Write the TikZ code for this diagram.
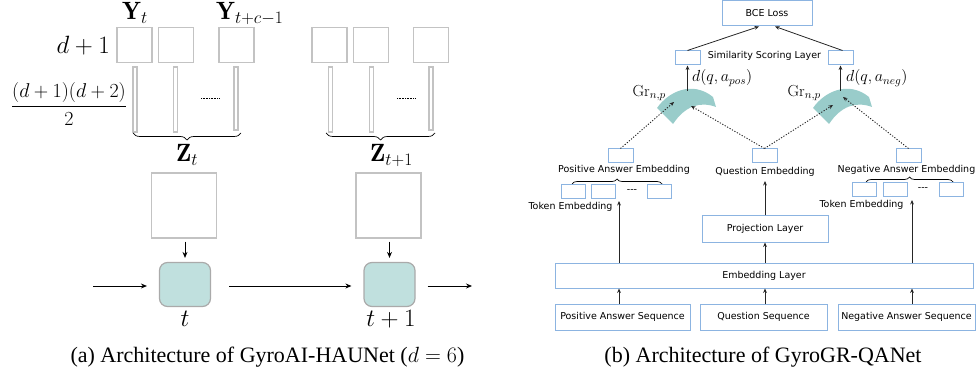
\documentclass[tikz,border=0pt]{standalone}
\usepackage{fix-cm}
\usepackage{amsmath}
\usepackage{fontspec}
\setsansfont{DejaVu Sans}
\newfontfamily\capfont{Liberation Serif}
\usetikzlibrary{arrows.meta,decorations.pathreplacing}
\definecolor{gbox}{RGB}{195,195,195}
\definecolor{rnnedge}{RGB}{170,170,170}
\definecolor{tealfill}{RGB}{192,224,222}
\definecolor{tealdark}{RGB}{153,204,202}
\definecolor{bluebox}{RGB}{140,180,225}
\begin{document}
\begin{tikzpicture}[x=1pt,y=-1pt,
 gsq/.style={draw=gbox,line width=1.2pt,fill=white,inner sep=0pt,minimum width=35pt,minimum height=35pt},
 gbar/.style={draw=gbox,line width=1.1pt,inner sep=0pt,minimum width=4pt,minimum height=65pt},
 gbig/.style={draw=gbox,line width=1.2pt,inner sep=0pt,minimum width=65pt,minimum height=65pt},
 rnn/.style={draw=rnnedge,fill=tealfill,line width=1.2pt,rounded corners=8pt,minimum width=51pt,minimum height=44pt,inner sep=0pt},
 big/.style={font=\fontsize{25}{30}\selectfont,inner sep=0pt},
 arrL/.style={-{Stealth[length=6pt,width=5pt]},line width=0.8pt},
 bbox/.style={draw=bluebox,line width=1pt,inner sep=0pt,font=\sffamily\fontsize{9.5}{11}\selectfont},
 txt/.style={font=\sffamily\fontsize{9.5}{11}\selectfont,inner sep=0pt},
 arrR/.style={-{Stealth[length=4.5pt,width=3.8pt]},line width=0.8pt,draw=black!85},
 dotarr/.style={arrR,line width=0.9pt,dash pattern=on 1.2pt off 1.6pt},
 rmath/.style={font=\fontsize{16}{19}\selectfont,inner sep=0pt},
 bracedown/.style={decorate,decoration={brace,mirror,amplitude=7pt},line width=0.7pt},
 braceup/.style={decorate,decoration={brace,amplitude=5pt},line width=0.7pt},
 captext/.style={font=\capfont\fontsize{22}{26}\selectfont,inner sep=0pt}
]
\useasboundingbox (0,0) rectangle (976,379);

% ---------- (a) ----------
\node[gsq] (y1) at (134.5,45) {};
\node[gsq] (y2) at (176,45) {};
\node[gsq] (y3) at (236.5,45) {};
\node[gbar] (b1) at (135,99.5) {};
\node[gbar] (b2) at (175.5,99.5) {};
\node[gbar,minimum height=63pt] (b3) at (236,98.5) {};
\coordinate (dots1a) at (201,98); \coordinate (dots1b) at (219,98);
\draw[densely dotted,line width=0.6pt] (dots1a) -- (dots1b);

\node[gsq] (y4) at (329.5,45) {};
\node[gsq] (y5) at (371,45) {};
\node[gsq] (y6) at (431,45) {};
\node[gbar] (b4) at (330.5,99.5) {};
\node[gbar] (b5) at (371.5,99.5) {};
\node[gbar,minimum height=63pt] (b6) at (431,98.5) {};
\coordinate (dots2a) at (397,98); \coordinate (dots2b) at (416,98);
\draw[densely dotted,line width=0.6pt] (dots2a) -- (dots2b);

\node[big,anchor=base west] (ylab1) at (122,20) {$\mathbf{Y}_t$};
\node[big,anchor=base west] (ylab2) at (216,20) {$\mathbf{Y}_{t+c-1}$};
\node[big,anchor=base east] (dlab) at (110,54) {$d+1$};
\node[font=\fontsize{20}{24}\selectfont,inner sep=0pt] (frac) at (69,104) {$\dfrac{(d+1)(d+2)}{2}$};

\coordinate (br1a) at (133,133); \coordinate (br1b) at (241,133);
\coordinate (br2a) at (326,133); \coordinate (br2b) at (435,133);
\draw[bracedown] (br1a) -- (br1b);
\draw[bracedown] (br2a) -- (br2b);
\node[big,anchor=base west] (zlab1) at (176,162) {$\mathbf{Z}_t$};
\node[big,anchor=base west] (zlab2) at (370,162) {$\mathbf{Z}_{t+1}$};

\node[gbig] (z1) at (184,205.5) {};
\node[gbig] (z2) at (388.5,205.5) {};
\node[rnn] (r1) at (185,284.5) {};
\node[rnn] (r2) at (389.5,284.5) {};
\draw[arrL,shorten <=3pt,shorten >=4pt] (z1.south -| r1.north) -- (r1.north);
\draw[arrL,shorten <=3pt,shorten >=4pt] (z2.south -| r2.north) -- (r2.north);
\coordinate (inL) at (93,286);
\coordinate (outR) at (472,286);
\draw[arrL,shorten >=12pt] (inL) -- (inL -| r1.west);
\draw[arrL,shorten <=18pt,shorten >=12pt] (inL -| r1.east) -- (inL -| r2.west);
\draw[arrL,shorten <=12pt] (inL -| r2.east) -- (outR);
\node[big,anchor=base] (tlab1) at (185,326) {$t$};
\node[big,anchor=base] (tlab2) at (391,326) {$t+1$};

% ---------- (b) ----------
\node[bbox,minimum width=90pt,minimum height=25pt] (bce) at (767,13.5) {BCE Loss};
\node[bbox,minimum width=25pt,minimum height=14pt] (simL) at (687.5,58) {};
\node[bbox,minimum width=25pt,minimum height=14pt] (simR) at (840.5,58) {};
\node[txt] (simtxt) at (764.5,56) {Similarity Scoring Layer};
\draw[arrR] (simL.north) -- ([xshift=-8pt]bce.south);
\draw[arrR] ([xshift=2pt]simR.north) -- ([xshift=8pt]bce.south);

% manifolds
\path[fill=tealdark] (657,108) .. controls (668,92) and (692,80) .. (713,97) -- (716,107) .. controls (700,101) and (685,106) .. (673,124) -- cycle;
\path[fill=tealdark] (813,108) .. controls (824,92) and (848,80) .. (869,97) -- (872,107) .. controls (856,101) and (841,106) .. (829,124) -- cycle;
\coordinate (mLtop) at (687.5,91); \coordinate (mLa) at (674,102); \coordinate (mLb) at (691,106);
\coordinate (mRtop) at (840.5,91); \coordinate (mRa) at (833,105); \coordinate (mRb) at (843,97);
\draw[arrR,line width=0.9pt] (mLtop) -- (simL.south);
\draw[arrR,line width=0.9pt] (mRtop) -- (simR.south);
\node[rmath,anchor=east] (grL) at (666,93) {$\mathrm{Gr}_{n,p}$};
\node[rmath,anchor=east] (grR) at (821,93) {$\mathrm{Gr}_{n,p}$};
\node[rmath,anchor=west] (dLl) at (692,78) {$d(q,a_{pos})$};
\node[rmath,anchor=west] (dRl) at (846,78) {$d(q,a_{neg})$};

% embeddings
\node[bbox,minimum width=25pt,minimum height=14pt] (posE) at (620.5,156) {};
\node[bbox,minimum width=25pt,minimum height=14pt] (qE) at (764.5,156) {};
\node[bbox,minimum width=25pt,minimum height=14pt] (negE) at (908.5,156) {};
\draw[dotarr] (posE.north) -- (mLa);
\draw[dotarr] (qE.north) -- (mLb);
\draw[dotarr] (qE.north) -- (mRa);
\draw[dotarr] (negE.north) -- (mRb);
\node[txt] (posT) at (624,169.5) {Positive Answer Embedding};
\node[txt] (qT) at (765,172) {Question Embedding};
\node[txt] (negT) at (906.5,169.5) {Negative Answer Embedding};

\coordinate (brLa) at (572,184); \coordinate (brLb) at (662,184);
\coordinate (brRa) at (866,182); \coordinate (brRb) at (953,182);
\draw[braceup] (brLa) -- (brLb);
\draw[braceup] (brRa) -- (brRb);

\node[bbox,minimum width=24pt,minimum height=14pt] (tokL1) at (573,192) {};
\node[bbox,minimum width=24pt,minimum height=14pt] (tokL2) at (603.5,192) {};
\node[bbox,minimum width=24pt,minimum height=14pt] (tokL3) at (659.5,192) {};
\node[txt] (dshL) at (632,191) {-{}-{}-};
\node[bbox,minimum width=24pt,minimum height=14pt] (tokR1) at (864.5,190) {};
\node[bbox,minimum width=24pt,minimum height=14pt] (tokR2) at (895.5,190) {};
\node[bbox,minimum width=24pt,minimum height=14pt] (tokR3) at (951,190) {};
\node[txt] (dshR) at (923,189) {-{}-{}-};
\node[txt] (tokTL) at (570.5,207) {Token Embedding};
\node[txt] (tokTR) at (861.5,205) {Token Embedding};

\node[bbox,minimum width=126pt,minimum height=26pt] (proj) at (765,229) {Projection Layer};
\node[bbox,minimum width=418pt,minimum height=25pt] (embed) at (764,275.5) {Embedding Layer};
\node[bbox,minimum width=135pt,minimum height=26pt] (posS) at (622.5,317) {Positive Answer Sequence};
\node[bbox,minimum width=127pt,minimum height=26pt] (qS) at (763.5,317) {Question Sequence};
\node[bbox,minimum width=137pt,minimum height=26pt] (negS) at (906.5,317) {Negative Answer Sequence};

\coordinate (tL) at (619,201);
\coordinate (tR) at (912,200);
\coordinate (qTip) at (765,181);
\draw[arrR] (posS.north -| tL) -- (embed.south -| tL);
\draw[arrR] (qS.north -| proj.south) -- (embed.south -| proj.south);
\draw[arrR] (negS.north -| tR) -- (embed.south -| tR);
\draw[arrR] (embed.north -| tL) -- (tL);
\draw[arrR] (embed.north -| proj.south) -- (proj.south);
\draw[arrR] (embed.north -| tR) -- (tR);
\draw[arrR] (proj.north) -- (qTip);

% captions
\node[captext] (capA) at (267.5,357) {(a) Architecture of GyroAI-HAUNet ($d=6$)};
\node[captext] (capB) at (763,357) {(b) Architecture of GyroGR-QANet};
\end{tikzpicture}
\end{document}
